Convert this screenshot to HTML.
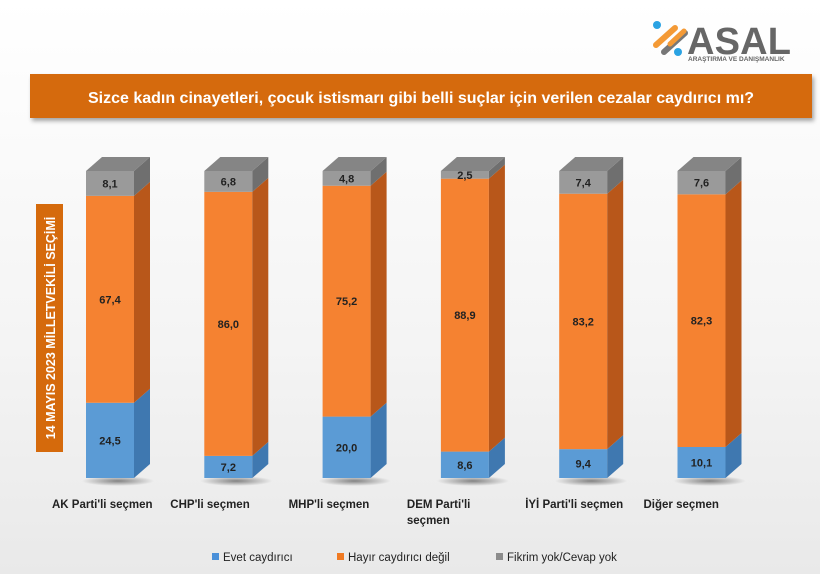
<!DOCTYPE html>
<html><head><meta charset="utf-8"><style>
body{margin:0;width:820px;height:574px;overflow:hidden;background:linear-gradient(#fff,#f4f4f4 60%,#e9e9e9);font-family:"Liberation Sans",sans-serif}
</style></head><body>
<svg width="820" height="574">
<defs>
<filter id="sh" x="-5%" y="-20%" width="110%" height="150%"><feDropShadow dx="2" dy="3" stdDeviation="2" flood-opacity="0.35"/></filter>
<radialGradient id="gs"><stop offset="0" stop-color="#000" stop-opacity="0.45"/><stop offset="1" stop-color="#000" stop-opacity="0"/></radialGradient>
</defs>
<g>
<g stroke-linecap="round" stroke-width="6">
<line x1="656" y1="45" x2="675" y2="28" stroke="#f49a36"/>
<line x1="664" y1="52" x2="685" y2="33" stroke="#777"/>
<line x1="670" y1="44" x2="684" y2="31" stroke="#f49a36" stroke-width="5"/>
</g>
<circle cx="657" cy="25" r="4" fill="#2ba3e3"/><circle cx="678" cy="52" r="4" fill="#2ba3e3"/>
<text x="687" y="54" font-size="38" font-weight="bold" fill="#666" textLength="104">ASAL</text>
<text x="688" y="61" font-size="6.5" font-weight="bold" fill="#666">ARAŞTIRMA VE DANIŞMANLIK</text>
</g>
<rect x="30" y="74" width="782" height="44" fill="#d56a0c" filter="url(#sh)"/>
<text x="421" y="103" text-anchor="middle" font-size="16" font-weight="bold" fill="#fff">Sizce kadın cinayetleri, çocuk istismarı gibi belli suçlar için verilen cezalar caydırıcı mı?</text>
<rect x="36" y="204" width="27" height="248" fill="#d56a0c"/>
<text transform="translate(55,328) rotate(-90)" text-anchor="middle" font-size="12.5" font-weight="bold" fill="#fff">14 MAYIS 2023 MİLLETVEKİLİ SEÇİMİ</text>
<g id="bars"></g>
<g font-size="11.5" fill="#222">
<rect x="212" y="553" width="7" height="7" fill="#4a90d9"/><text x="223" y="561">Evet caydırıcı</text>
<rect x="337" y="553" width="7" height="7" fill="#f07a22"/><text x="348" y="561">Hayır caydırıcı değil</text>
<rect x="496" y="553" width="7" height="7" fill="#8c8c8c"/><text x="507" y="561">Fikrim yok/Cevap yok</text>
</g>
</svg>
<script>
const categories=["AK Parti'li seçmen","CHP'li seçmen","MHP'li seçmen","DEM Parti'li|seçmen","İYİ Parti'li seçmen","Diğer seçmen"];
const evet=[24.5,7.2,20.0,8.6,9.4,10.1];
const hayir=[67.4,86.0,75.2,88.9,83.2,82.3];
const fikrim=[8.1,6.8,4.8,2.5,7.4,7.6];
const NS="http://www.w3.org/2000/svg";
const g=document.getElementById('bars');
const base=478,plotH=307,x0=86,step=118.3,bw=48,dx=16,dy=14;
const y=v=>v/100*plotH;
const cols=[["#5b9bd5","#3f78b0","#4a86c4"],["#f58231","#b8571a","#f39a5a"],["#9a9a9a","#6f6f6f","#888"]];
function el(t,a){const e=document.createElementNS(NS,t);for(const k in a)e.setAttribute(k,a[k]);g.appendChild(e);return e;}
categories.forEach((c,i)=>{
  const x=x0+i*step;
  const sh=el('ellipse',{cx:x+bw/2+8,cy:base+3,rx:bw*0.75,ry:5,fill:'url(#gs)'});
  
  
  const vals=[evet[i],hayir[i],fikrim[i]];
  let cum=0;
  vals.forEach((v,s)=>{
    const yb=base-y(cum),yt=base-y(cum+v);
    const f=el('rect',{x:x,y:yt,width:bw,height:yb-yt,fill:cols[s][0]});
    
    
    const sd=el('polygon',{points:`${x+bw},${yb} ${x+bw+dx},${yb-dy} ${x+bw+dx},${yt-dy} ${x+bw},${yt}`,fill:cols[s][1]});
    
    
    const t=el('text',{x:x+bw/2,y:(yb+yt)/2+4,'text-anchor':'middle','font-size':11,'font-weight':'bold',fill:'#222'});
    t.textContent=v.toFixed(1).replace('.',',');
    
    
    cum+=v;
    if(s===2){
      const tp=el('polygon',{points:`${x},${yt} ${x+dx},${yt-dy} ${x+bw+dx},${yt-dy} ${x+bw},${yt}`,fill:'#858585'});
      
      
    }
  });
  c.split('|').forEach((ln,k)=>{
    const t=el('text',{x:x-34,y:508+k*16,'font-size':11.5,'font-weight':'bold',fill:'#222'});
    t.textContent=ln;
    
    
  });
});
</script>
</body></html>
